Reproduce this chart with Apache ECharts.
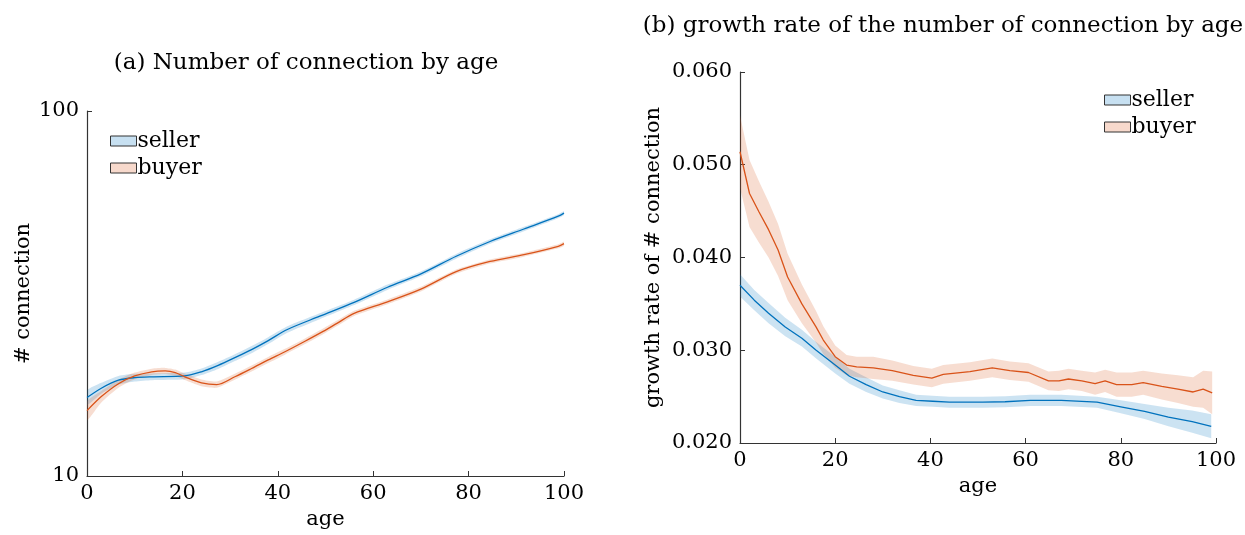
<!DOCTYPE html>
<html>
  <head>
    <meta charset="utf-8" />
    <title>connection by age</title>
    <script src="https://cdn.jsdelivr.net/npm/echarts@6/dist/echarts.min.js"></script>
  </head>
  <body style="margin: 0">
    <div id="main" style="width: 1245px; height: 535px"></div>
    <script type="text/javascript">
      // (a) number of connection, log scale
      var ageSellerA = [0, 3, 6.6, 10, 13.6, 20.5, 24, 27.5, 31, 34.5, 38, 42, 48.8, 56, 63, 70, 77.4, 84.5, 91.6, 98.8, 100];
      var sellerA = [16.4, 17.4, 18.3, 18.6, 18.7, 18.8, 19.3, 20.1, 21.1, 22.2, 23.5, 25.2, 27.4, 29.9, 32.9, 35.8, 40.0, 43.9, 47.5, 51.5, 52.5];
      var sellerBandA = [0.75, 0.6, 0.5, 0.45, 0.4, 0.4, 0.4, 0.45, 0.45, 0.5, 0.5, 0.5, 0.5, 0.5, 0.55, 0.55, 0.6, 0.6, 0.65, 0.65, 0.65];

      var ageBuyerA = [0, 3, 6.6, 10, 13.6, 16.4, 18.5, 20.5, 24, 27.2, 31, 34.5, 38, 41.5, 45.7, 49.5, 52.4, 56, 63, 70, 77.4, 84.5, 91.6, 98.8, 100];
      var buyerA = [15.1, 16.5, 17.9, 18.8, 19.3, 19.4, 19.2, 18.7, 18.0, 17.8, 18.7, 19.7, 20.8, 21.9, 23.4, 24.9, 26.2, 27.9, 30.0, 32.5, 36.3, 38.7, 40.4, 42.6, 43.3];
      var buyerBandA = [0.9, 0.6, 0.45, 0.4, 0.38, 0.38, 0.38, 0.38, 0.38, 0.35, 0.35, 0.38, 0.4, 0.4, 0.42, 0.45, 0.45, 0.45, 0.45, 0.48, 0.5, 0.5, 0.5, 0.55, 0.55];

      // (b) growth rate
      var ageSellerB = [0, 3, 6, 9.5, 13, 16, 20, 23, 26.5, 30, 33.5, 37, 40.5, 44, 47.5, 51, 55.7, 61, 67.5, 75, 80, 85, 90, 95, 99];
      var sellerB = [0.0370, 0.0354, 0.0340, 0.0325, 0.0313, 0.0300, 0.0284, 0.0272, 0.0263, 0.0255, 0.0250, 0.0246, 0.0245, 0.0244, 0.0244, 0.0244, 0.02445, 0.0246, 0.0246, 0.0244, 0.0239, 0.0234, 0.0228, 0.0223, 0.0218];
      var sellerBandB = [0.0012, 0.0011, 0.0011, 0.0010, 0.0009, 0.0009, 0.0009, 0.0008, 0.0008, 0.0007, 0.0007, 0.0006, 0.0006, 0.0006, 0.0006, 0.0006, 0.0006, 0.0006, 0.0006, 0.0006, 0.0007, 0.0008, 0.0010, 0.0012, 0.0013];

      var ageBuyerB = [0, 2, 4, 6, 8, 10, 13, 16, 17.5, 20, 22.4, 24.5, 28, 32, 36.4, 40.3, 42.7, 48.3, 53, 56.7, 60.6, 64.8, 67, 69, 71.8, 74.6, 76.7, 79.1, 82.3, 84.7, 88.6, 92, 95.2, 97.3, 99.2];
      var buyerB = [0.0514, 0.0469, 0.0449, 0.0430, 0.0408, 0.0379, 0.0350, 0.0325, 0.0311, 0.0293, 0.0284, 0.0282, 0.0281, 0.0278, 0.0273, 0.0270, 0.0274, 0.0277, 0.0281, 0.0278, 0.0276, 0.0267, 0.0267, 0.0269, 0.0267, 0.0264, 0.0267, 0.0263, 0.0263, 0.0265, 0.0261, 0.0258, 0.0255, 0.0258, 0.0254];
      var buyerBandB = [0.0039, 0.0036, 0.0033, 0.0030, 0.0028, 0.0025, 0.0021, 0.0017, 0.0015, 0.0012, 0.0011, 0.0011, 0.0012, 0.0011, 0.0010, 0.0010, 0.0010, 0.0010, 0.0010, 0.0010, 0.0010, 0.0010, 0.0011, 0.0011, 0.0011, 0.0012, 0.0012, 0.0013, 0.0013, 0.0013, 0.0014, 0.0015, 0.0016, 0.0020, 0.0023];

      var BLUE = "#0072BD";
      var ORANGE = "#D95319";
      var BLUE_FILL = "rgba(0,114,189,0.2)";
      var ORANGE_FILL = "rgba(217,83,25,0.2)";
      var FONT = "DejaVu Serif";

      var myChart = echarts.init(document.getElementById("main"), null, { renderer: "canvas" });

      function zip(ages, vals) {
        return ages.map(function (a, i) { return [a, vals[i]]; });
      }

      // shaded band drawn as one polygon through the axes
      function band(name, idx, ages, vals, half, fill, smooth) {
        var data = ages.map(function (a, i) { return [a, vals[i] - half[i], vals[i] + half[i]]; });
        return {
          name: name,
          type: "custom",
          xAxisIndex: idx,
          yAxisIndex: idx,
          silent: true,
          clip: true,
          itemStyle: { color: fill },
          encode: { x: 0, y: [1, 2] },
          data: data,
          renderItem: function (params, api) {
            if (params.dataIndex !== 0) return;
            var top = [], bot = [];
            data.forEach(function (d) {
              top.push(api.coord([d[0], d[2]]));
              bot.push(api.coord([d[0], d[1]]));
            });
            return {
              type: "group",
              children: [
                {
                  type: "polygon",
                  shape: { points: top.concat(bot.reverse()), smooth: smooth ? 0.2 : 0 },
                  style: { fill: fill }
                }
              ]
            };
          }
        };
      }

      function line(name, idx, ages, vals, color, smooth) {
        return {
          name: name,
          type: "line",
          xAxisIndex: idx,
          yAxisIndex: idx,
          data: zip(ages, vals),
          showSymbol: false,
          smooth: smooth,
          lineStyle: { color: color, width: 1.3 },
          itemStyle: { color: color },
          z: 3
        };
      }

      var axisCommon = {
        axisLine: { lineStyle: { color: "#333", width: 1.2 } },
        axisTick: { inside: true, length: 5, lineStyle: { color: "#333" } },
        axisLabel: { color: "#000", fontFamily: FONT, fontSize: 21 },
        splitLine: { show: false },
        nameTextStyle: { color: "#000", fontFamily: FONT, fontSize: 21 }
      };

      function xAxis(idx, gap) {
        return Object.assign({}, axisCommon, {
          type: "value",
          gridIndex: idx,
          min: 0,
          max: 100,
          interval: 20,
          name: "age",
          nameLocation: "middle",
          nameGap: gap,
          axisLabel: Object.assign({}, axisCommon.axisLabel, { margin: 7 })
        });
      }

      function legendFor(left, top) {
        return {
          left: left,
          top: top,
          orient: "vertical",
          itemWidth: 26,
          itemHeight: 10,
          itemGap: 5,
          icon: "rect",
          textStyle: { color: "#000", fontFamily: FONT, fontSize: 22, padding: [0, 0, 0, -4] },
          data: [
            { name: "seller", itemStyle: { color: "rgba(0,114,189,0.22)", borderColor: "#333", borderWidth: 1 } },
            { name: "buyer", itemStyle: { color: "rgba(217,83,25,0.22)", borderColor: "#333", borderWidth: 1 } }
          ]
        };
      }

      var options = {
        animation: false,
        backgroundColor: "#fff",
        title: [
          {
            text: "(a) Number of connection by age",
            left: 301,
            textAlign: "center",
            top: 47,
            textStyle: { fontFamily: FONT, fontWeight: "normal", fontSize: 23, color: "#000" }
          },
          {
            text: "(b) growth rate of the number of connection by age",
            left: 938,
            textAlign: "center",
            top: 10,
            textStyle: { fontFamily: FONT, fontWeight: "normal", fontSize: 23, color: "#000" }
          }
        ],
        legend: [legendFor(105, 125), legendFor(1099, 84)],
        grid: [
          { left: 87, right: 681, top: 111, bottom: 54 },
          { left: 740, right: 29, top: 72, bottom: 92 }
        ],
        xAxis: [xAxis(0, 33), xAxis(1, 33)],
        yAxis: [
          Object.assign({}, axisCommon, {
            type: "log",
            logBase: 10,
            gridIndex: 0,
            min: 10,
            max: 100,
            name: "# connection",
            nameLocation: "middle",
            nameGap: 53,
            minorTick: { show: false }
          }),
          Object.assign({}, axisCommon, {
            type: "value",
            gridIndex: 1,
            min: 0.02,
            max: 0.06,
            interval: 0.01,
            name: "growth rate of # connection",
            nameLocation: "middle",
            nameGap: 76,
            axisLabel: Object.assign({}, axisCommon.axisLabel, {
              formatter: function (v) { return v.toFixed(3); }
            })
          })
        ],
        series: [
          band("seller", 0, ageSellerA, sellerA, sellerBandA, BLUE_FILL, true),
          band("buyer", 0, ageBuyerA, buyerA, buyerBandA, ORANGE_FILL, true),
          line("seller", 0, ageSellerA, sellerA, BLUE, 0.3),
          line("buyer", 0, ageBuyerA, buyerA, ORANGE, 0.3),
          band("seller", 1, ageSellerB, sellerB, sellerBandB, BLUE_FILL, false),
          band("buyer", 1, ageBuyerB, buyerB, buyerBandB, ORANGE_FILL, false),
          line("seller", 1, ageSellerB, sellerB, BLUE, false),
          line("buyer", 1, ageBuyerB, buyerB, ORANGE, false)
        ]
      };

      myChart.setOption(options);
    </script>
  </body>
</html>
